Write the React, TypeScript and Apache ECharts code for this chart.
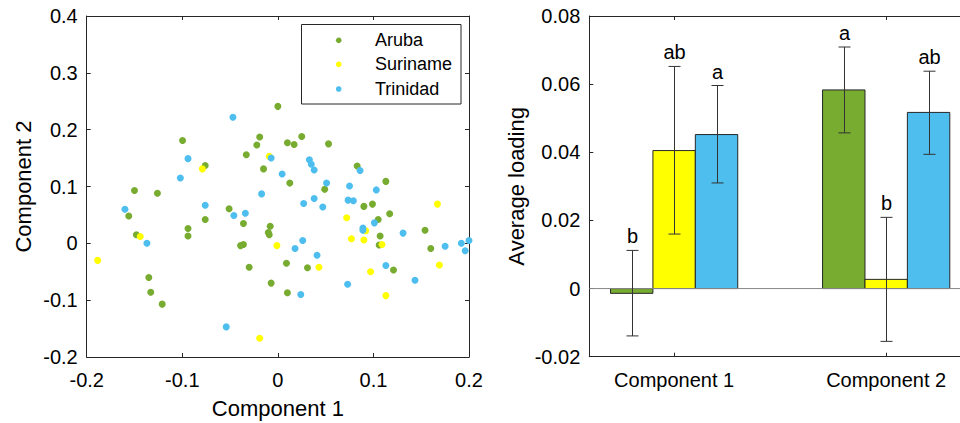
import React, { useEffect, useRef } from "react";
import * as echarts from "echarts";

// ---------- Scatter data (Component 1, Component 2) ----------
const arubaPts: [number, number][] = [
  [0.0, 0.241], [-0.0997, 0.181], [-0.019, 0.187], [-0.022, 0.173], [0.01, 0.177],
  [0.017, 0.174], [0.025, 0.188], [0.053, 0.175], [-0.033, 0.156], [-0.076, 0.137],
  [-0.015, 0.131], [0.0125, 0.106], [-0.15, 0.093], [-0.126, 0.088], [0.083, 0.136],
  [0.113, 0.109], [0.049, 0.095], [-0.051, 0.061], [-0.076, 0.042], [-0.156, 0.048],
  [0.099, 0.069], [0.09, 0.065], [0.117, 0.052], [0.105, 0.042], [-0.094, 0.026],
  [-0.094, 0.013], [-0.148, 0.015], [-0.036, 0.035], [-0.008, 0.03], [-0.01, 0.019],
  [-0.009, 0.015], [-0.039, -0.004], [-0.036, -0.002], [0.107, 0.013], [0.106, -0.003],
  [0.154, 0.023], [0.16, -0.009], [-0.03, -0.042], [0.009, -0.035], [0.031, -0.043],
  [0.121, -0.047], [-0.135, -0.06], [-0.133, -0.086], [-0.121, -0.107], [-0.007, -0.07],
  [0.01, -0.087],
];
const surinamePts: [number, number][] = [
  [-0.1885, -0.03], [-0.144, 0.012], [-0.079, 0.131], [-0.009, 0.153], [-0.001, -0.004],
  [-0.019, -0.167], [0.043, -0.042], [0.072, 0.045], [0.077, 0.008], [0.09, 0.006],
  [0.092, 0.022], [0.109, -0.002], [0.097, -0.05], [0.113, -0.092], [0.167, 0.069],
  [0.169, -0.038],
];
const trinidadPts: [number, number][] = [
  [-0.047, 0.222], [-0.094, 0.149], [-0.102, 0.115], [-0.16, 0.06], [-0.137, 0.0],
  [-0.076, 0.067], [-0.046, 0.049], [-0.034, 0.053], [-0.017, 0.087], [-0.007, 0.15],
  [0.0045, 0.122], [0.033, 0.147], [0.035, 0.139], [0.038, 0.129], [0.051, 0.106],
  [0.027, 0.07], [0.038, 0.079], [0.047, 0.064], [0.075, 0.101], [0.086, 0.128],
  [0.0735, 0.076], [0.079, 0.075], [0.103, 0.094], [0.101, 0.036], [0.089, 0.027],
  [0.089, 0.023], [0.131, 0.018], [0.026, 0.005], [0.018, -0.009], [0.041, -0.021],
  [0.073, -0.072], [0.024, -0.09], [0.113, -0.039], [0.1435, -0.065], [0.175, -0.005],
  [0.192, 0.0], [0.2, 0.005], [0.196, -0.013], [-0.054, -0.147],
];

// ---------- Bar data ----------
const barCategories = ["Component 1", "Component 2"];
const arubaMean = [-0.0014, 0.0583];
const arubaLow = [-0.0139, 0.0457];
const arubaHigh = [0.0112, 0.0709];
const arubaLetters = ["b", "a"];
const surinameMean = [0.0405, 0.0027];
const surinameLow = [0.016, -0.0155];
const surinameHigh = [0.0652, 0.0209];
const surinameLetters = ["ab", "b"];
const trinidadMean = [0.0452, 0.0517];
const trinidadLow = [0.031, 0.0394];
const trinidadHigh = [0.0596, 0.0638];
const trinidadLetters = ["a", "ab"];

const seriesNames = ["Aruba", "Suriname", "Trinidad"];
const GREEN = "#77AC30";
const YELLOW = "#FFFF00";
const BLUE = "#4DBEEE";
const AX = "#262626";
const FONT = "'Liberation Sans', Arial, Helvetica, sans-serif";

const fmt = (v: number) => String(parseFloat(Number(v).toFixed(3)));

export default function App() {
  const ref = useRef<HTMLDivElement>(null);
  useEffect(() => {
    if (!ref.current) return;
    const chart = echarts.init(ref.current, undefined, { renderer: "svg" });
    const halfW = 0.1;
    const offsets = [-0.2, 0, 0.2];
    const means = [arubaMean, surinameMean, trinidadMean];
    const lows = [arubaLow, surinameLow, trinidadLow];
    const highs = [arubaHigh, surinameHigh, trinidadHigh];
    const letters = [arubaLetters, surinameLetters, trinidadLetters];
    const colors = [GREEN, YELLOW, BLUE];

    const barSeries: any[] = [];
    const errSeries: any[] = [];
    for (let s = 0; s < 3; s++) {
      barSeries.push({
        type: "custom",
        name: seriesNames[s] + " mean",
        xAxisIndex: 2,
        yAxisIndex: 2,
        clip: false,
        data: barCategories.map((_, i) => [i + 1 + offsets[s], means[s][i]]),
        renderItem: (params: any, api: any) => {
          const x = api.value(0);
          const y = api.value(1);
          const p1 = api.coord([x - halfW, y]);
          const p2 = api.coord([x + halfW, 0]);
          return {
            type: "rect",
            shape: {
              x: p1[0],
              y: Math.min(p1[1], p2[1]),
              width: p2[0] - p1[0],
              height: Math.abs(p2[1] - p1[1]),
            },
            style: { fill: colors[s], stroke: AX, lineWidth: 1 },
          };
        },
        z: 2,
      });
      errSeries.push({
        type: "custom",
        name: seriesNames[s] + " error",
        xAxisIndex: 2,
        yAxisIndex: 2,
        clip: false,
        data: barCategories.map((_, i) => [i + 1 + offsets[s], lows[s][i], highs[s][i]]),
        renderItem: (params: any, api: any) => {
          const x = api.value(0);
          const lo = api.coord([x, api.value(1)]);
          const hi = api.coord([x, api.value(2)]);
          const cx = Math.round(lo[0]) + 0.5;
          const cap = 6;
          const ls = { stroke: "#333", lineWidth: 1 };
          return {
            type: "group",
            children: [
              { type: "line", shape: { x1: cx, y1: lo[1], x2: cx, y2: hi[1] }, style: ls },
              { type: "line", shape: { x1: cx - cap, y1: lo[1], x2: cx + cap, y2: lo[1] }, style: ls },
              { type: "line", shape: { x1: cx - cap, y1: hi[1], x2: cx + cap, y2: hi[1] }, style: ls },
              {
                type: "text",
                x: cx,
                y: hi[1] - 4,
                style: {
                  text: letters[s][params.dataIndex],
                  fill: "#000",
                  font: `20px ${FONT}`,
                  align: "center",
                  verticalAlign: "bottom",
                },
              },
            ],
          };
        },
        z: 4,
      });
    }

    const scatterCommon = { type: "scatter", symbolSize: 7, xAxisIndex: 0, yAxisIndex: 0 };
    const line = { show: true, onZero: false, lineStyle: { color: AX } };
    const tick = { show: true, inside: true, length: 4, lineStyle: { color: AX } };

    // legend drawn as graphic (box, markers, labels)
    const legendRows = [40.3, 64.3, 89];
    const legendChildren: any[] = [
      {
        type: "rect",
        shape: { x: 301.5, y: 24.5, width: 159.5, height: 79.5 },
        style: { fill: "#fff", stroke: AX, lineWidth: 1 },
      },
    ];
    seriesNames.forEach((n, i) => {
      legendChildren.push({
        type: "circle",
        shape: { cx: 338.7, cy: legendRows[i], r: 2.8 },
        style: { fill: colors[i] },
      });
      legendChildren.push({
        type: "text",
        x: 375,
        y: legendRows[i],
        style: { text: n, fill: "#000", font: `18px ${FONT}`, align: "left", verticalAlign: "middle" },
      });
    });

    chart.setOption({
      animation: false,
      textStyle: { fontFamily: FONT },
      grid: [
        { left: 86.7, top: 16, width: 382.3, height: 341, show: false, outerBoundsMode: "none", containLabel: false },
        { left: 589.3, top: 16, width: 381.7, height: 340.7, show: false, outerBoundsMode: "none", containLabel: false },
      ],
      graphic: [{ type: "group", z: 100, children: legendChildren }],
      xAxis: [
        {
          type: "value",
          gridIndex: 0,
          min: -0.2,
          max: 0.2,
          interval: 0.1,
          name: "Component 1",
          nameLocation: "middle",
          nameGap: 40,
          nameTextStyle: { fontSize: 22, color: "#000", fontFamily: FONT },
          axisLine: line,
          axisTick: tick,
          axisLabel: { fontSize: 20, color: "#000", margin: 13, formatter: fmt, showMinLabel: true, showMaxLabel: true },
          splitLine: { show: false },
        },
        {
          type: "value",
          gridIndex: 0,
          position: "top",
          min: -0.2,
          max: 0.2,
          interval: 0.1,
          axisLine: line,
          axisTick: tick,
          axisLabel: { show: false },
          splitLine: { show: false },
        },
        {
          type: "value",
          gridIndex: 1,
          min: 0.6,
          max: 2.4,
          axisLine: line,
          axisTick: { ...tick, customValues: [1, 2] },
          axisLabel: {
            fontSize: 20,
            color: "#000",
            margin: 13,
            customValues: [1, 2],
            formatter: (v: number) => barCategories[Math.round(v) - 1] ?? "",
          },
          splitLine: { show: false },
        },
        {
          type: "value",
          gridIndex: 1,
          position: "top",
          min: 0.6,
          max: 2.4,
          axisLine: line,
          axisTick: { ...tick, customValues: [1, 2] },
          axisLabel: { show: false },
          splitLine: { show: false },
        },
      ],
      yAxis: [
        {
          type: "value",
          gridIndex: 0,
          min: -0.2,
          max: 0.4,
          interval: 0.1,
          name: "Component 2",
          nameLocation: "middle",
          nameGap: 52,
          nameTextStyle: { fontSize: 22, color: "#000", fontFamily: FONT },
          axisLine: line,
          axisTick: tick,
          axisLabel: { fontSize: 20, color: "#000", margin: 9, formatter: fmt },
          splitLine: { show: false },
        },
        {
          type: "value",
          gridIndex: 0,
          position: "right",
          min: -0.2,
          max: 0.4,
          interval: 0.1,
          axisLine: line,
          axisTick: tick,
          axisLabel: { show: false },
          splitLine: { show: false },
        },
        {
          type: "value",
          gridIndex: 1,
          min: -0.02,
          max: 0.08,
          interval: 0.02,
          name: "Average loading",
          nameLocation: "middle",
          nameGap: 62,
          nameTextStyle: { fontSize: 22, color: "#000", fontFamily: FONT },
          axisLine: line,
          axisTick: tick,
          axisLabel: { fontSize: 20, color: "#000", margin: 9, formatter: fmt },
          splitLine: { show: false },
        },
        {
          type: "value",
          gridIndex: 1,
          position: "right",
          min: -0.02,
          max: 0.08,
          interval: 0.02,
          axisLine: line,
          axisTick: tick,
          axisLabel: { show: false },
          splitLine: { show: false },
        },
      ],
      series: [
        { ...scatterCommon, name: "Aruba", data: arubaPts, itemStyle: { color: GREEN, opacity: 1 } },
        { ...scatterCommon, name: "Suriname", data: surinamePts, itemStyle: { color: YELLOW, opacity: 1 } },
        { ...scatterCommon, name: "Trinidad", data: trinidadPts, itemStyle: { color: BLUE, opacity: 1 } },
        ...barSeries,
        {
          type: "line",
          name: "baseline",
          xAxisIndex: 2,
          yAxisIndex: 2,
          data: [[0.6, 0], [2.4, 0]],
          symbol: "none",
          lineStyle: { color: "#888", width: 1 },
          z: 3,
        },
        ...errSeries,
      ],
    });
    return () => chart.dispose();
  }, []);
  return (
    <div
      ref={ref}
      style={{ position: "absolute", left: 0, top: 0, width: 960, height: 423, background: "#fff" }}
    />
  );
}
